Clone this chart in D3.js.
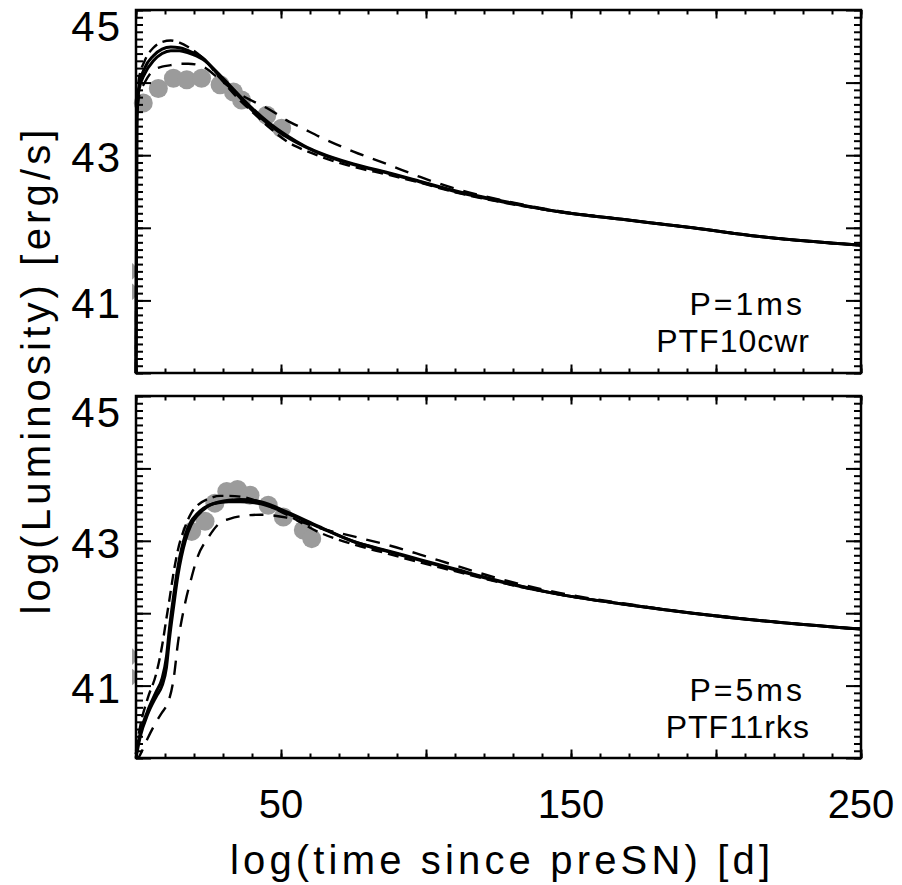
<!DOCTYPE html>
<html>
<head>
<meta charset="utf-8">
<script src="https://cdn.jsdelivr.net/npm/d3@7"></script>
<style>
  body { margin: 0; background: #fff; }
  text { font-family: "Liberation Sans", Arial, Helvetica, sans-serif; fill: #000; }
  .narrow { font-family: "Liberation Sans Narrow", "Liberation Sans", Arial, sans-serif; }
</style>
</head>
<body>
<div id="chart-area"></div>
<script>
// light curves (time in days, log L in erg/s)

// top panel: P=1ms, PTF10cwr
var tTop = [0, 0.3, 1, 3, 6, 9, 12, 15, 18, 23, 29, 35, 40, 46, 52, 58, 63, 75, 87, 98, 110, 125, 146, 169, 192, 215, 250];
var topSolid1 = [40.0, 43.5, 43.95, 44.2, 44.37, 44.46, 44.49, 44.48, 44.44, 44.34, 44.08, 43.83, 43.62, 43.42, 43.25, 43.12, 43.03, 42.87, 42.75, 42.63, 42.5, 42.37, 42.22, 42.11, 42.0, 41.88, 41.76];
var topSolid2 = [40.0, 43.45, 43.9, 44.12, 44.3, 44.4, 44.44, 44.44, 44.41, 44.32, 44.1, 43.85, 43.65, 43.44, 43.27, 43.13, 43.04, 42.88, 42.76, 42.64, 42.51, 42.38, 42.22, 42.11, 42.0, 41.88, 41.76];
var topDash1  = [40.0, 43.6, 44.05, 44.3, 44.48, 44.56, 44.58, 44.55, 44.49, 44.34, 44.06, 43.79, 43.6, 43.38, 43.19, 43.07, 42.99, 42.84, 42.73, 42.62, 42.49, 42.36, 42.22, 42.11, 42.0, 41.88, 41.76];
var topDash2  = [40.0, 43.4, 43.8, 44.0, 44.17, 44.22, 44.24, 44.26, 44.26, 44.22, 44.04, 43.86, 43.75, 43.63, 43.48, 43.36, 43.26, 43.05, 42.87, 42.7, 42.54, 42.39, 42.23, 42.11, 42.0, 41.88, 41.76];
var dotsTopT = [-3, -3, 2.5, 7.7, 12.9, 17.5, 22.6, 29, 33.6, 36.4, 45.1, 50.2];
var dotsTopL = [41.4, 41.12, 43.72, 43.92, 44.06, 44.04, 44.06, 43.97, 43.87, 43.76, 43.55, 43.37];

// bottom panel: P=5ms, PTF11rks
var tBot = [0, 1.5, 4, 7, 9, 10.5, 11.5, 13, 14.5, 17, 19, 21, 25, 29, 32, 36, 43, 52, 63, 75, 87, 98, 110, 125, 146, 169, 192, 215, 250];
var botSolid1 = [40.0, 40.3, 40.6, 40.85, 41.0, 41.25, 41.63, 42.1, 42.53, 43.0, 43.22, 43.34, 43.48, 43.54, 43.56, 43.57, 43.54, 43.4, 43.2, 42.99, 42.85, 42.73, 42.6, 42.44, 42.26, 42.12, 42.0, 41.9, 41.78];
var botSolid2 = [40.05, 40.35, 40.65, 40.92, 41.1, 41.4, 41.78, 42.25, 42.65, 43.08, 43.27, 43.37, 43.49, 43.53, 43.54, 43.54, 43.51, 43.38, 43.19, 42.99, 42.86, 42.74, 42.61, 42.45, 42.26, 42.12, 42.0, 41.9, 41.78];
var botDash1  = [40.1, 40.45, 40.82, 41.17, 41.55, 41.93, 42.18, 42.57, 42.88, 43.2, 43.38, 43.48, 43.58, 43.62, 43.62, 43.61, 43.53, 43.36, 43.12, 42.95, 42.82, 42.7, 42.58, 42.43, 42.26, 42.12, 42.0, 41.9, 41.78];
var botDash2  = [39.95, 40.05, 40.27, 40.5, 40.63, 40.72, 40.82, 41.1, 41.6, 42.15, 42.47, 42.75, 43.05, 43.25, 43.3, 43.34, 43.36, 43.32, 43.18, 43.06, 42.94, 42.81, 42.66, 42.48, 42.28, 42.13, 42.0, 41.9, 41.78];
var dotsBotT = [-3, -3, 19.2, 23.8, 27.2, 31.3, 35, 39.3, 45.6, 50.8, 57.7, 60.6];
var dotsBotL = [41.4, 41.12, 43.13, 43.27, 43.52, 43.68, 43.71, 43.63, 43.49, 43.33, 43.15, 43.03];

var xTickLabels = [50, 150, 250];
var yTickLabels = [41, 43, 45];
var notesTop = ["P=1ms", "PTF10cwr"];
var notesBot = ["P=5ms", "PTF11rks"];

var W = 902, H = 885;
var left = 136, right = 861;

var svg = d3.select("#chart-area")
    .append("svg")
        .attr("width", W)
        .attr("height", H);

var xScale = d3.scaleLinear()
    .domain([0, 250])
    .range([left, right]);

function zip(t, v) {
    return t.map(function(d, i) { return [d, v[i]]; });
}

function drawPanel(id, top, bottom, series, dotsT, dotsL, notes, showLabels) {
    var yScale = d3.scaleLinear()
        .domain([40, 45])
        .range([bottom, top]);

    svg.append("clipPath")
        .attr("id", "clip" + id)
      .append("rect")
        .attr("x", left - 4)
        .attr("y", top)
        .attr("width", right - left + 4)
        .attr("height", bottom - top);

    var g = svg.append("g").attr("clip-path", "url(#clip" + id + ")");

    // data points
    g.selectAll("circle")
        .data(zip(dotsT, dotsL))
        .enter().append("circle")
        .attr("cx", function(d) { return xScale(d[0]); })
        .attr("cy", function(d) { return yScale(d[1]); })
        .attr("r", 9.5)
        .attr("fill", "#9b9b9b");

    var line = d3.line()
        .curve(d3.curveMonotoneX)
        .x(function(d) { return xScale(d[0]); })
        .y(function(d) { return yScale(d[1]); });

    series.forEach(function(s) {
        g.append("path")
            .datum(zip(s.t, s.v))
            .attr("d", line)
            .attr("fill", "none")
            .attr("stroke", "#000")
            .attr("stroke-width", s.w)
            .attr("stroke-dasharray", s.dash);
    });

    // ticks on all four sides, pointing inward
    var xMinor = d3.range(0, 251, 10), xMajor = d3.range(0, 251, 50);
    var yMinor = d3.range(400, 451, 1).map(function(d) { return d / 10; });
    var yMajor = d3.range(40, 46, 1);

    function addAxis(axis, tx, ty) {
        var a = svg.append("g")
            .attr("transform", "translate(" + tx + "," + ty + ")")
            .call(axis);
        a.select(".domain").remove();
        a.selectAll("line").attr("stroke", "#000").attr("stroke-width", 2);
        a.selectAll("text").remove();
    }
    addAxis(d3.axisBottom(xScale).tickValues(xMinor).tickSize(-4.5), 0, bottom);
    addAxis(d3.axisBottom(xScale).tickValues(xMajor).tickSize(-8.5), 0, bottom);
    addAxis(d3.axisTop(xScale).tickValues(xMinor).tickSize(-4.5), 0, top);
    addAxis(d3.axisTop(xScale).tickValues(xMajor).tickSize(-8.5), 0, top);
    addAxis(d3.axisLeft(yScale).tickValues(yMinor).tickSize(-7), left, 0);
    addAxis(d3.axisLeft(yScale).tickValues(yMajor).tickSize(-15), left, 0);
    addAxis(d3.axisRight(yScale).tickValues(yMinor).tickSize(-7), right, 0);
    addAxis(d3.axisRight(yScale).tickValues(yMajor).tickSize(-15), right, 0);

    // frame
    svg.append("rect")
        .attr("x", left)
        .attr("y", top)
        .attr("width", right - left)
        .attr("height", bottom - top)
        .attr("fill", "none")
        .attr("stroke", "#000")
        .attr("stroke-width", 2.5);

    // y tick labels (IDL pushes the top one inside)
    svg.selectAll(".ylab" + id)
        .data(yTickLabels)
        .enter().append("text")
        .attr("class", "ylab" + id)
        .attr("x", 122)
        .attr("y", function(d) { return Math.max(yScale(d) + 2, top + 16); })
        .attr("dy", "0.36em")
        .attr("text-anchor", "end")
        .attr("font-size", "42px")
        .attr("letter-spacing", "2px")
        .text(function(d) { return d; });

    if (showLabels) {
        svg.selectAll(".xlab")
            .data(xTickLabels)
            .enter().append("text")
            .attr("class", "xlab narrow")
            .attr("x", function(d) { return xScale(d); })
            .attr("y", bottom + 60)
            .attr("text-anchor", "middle")
            .attr("font-size", "40px")
            .text(function(d) { return d; });
    }

    // annotation
    svg.append("text")
        .attr("x", 805)
        .attr("y", top + 305)
        .attr("text-anchor", "end")
        .attr("font-size", "32px")
        .attr("letter-spacing", "3px")
        .text(notes[0]);
    svg.append("text")
        .attr("x", 810)
        .attr("y", top + 342)
        .attr("text-anchor", "end")
        .attr("font-size", "32px")
        .attr("letter-spacing", "1px")
        .text(notes[1]);
}

drawPanel("top", 10, 373, [
    { t: tTop, v: topDash2, w: 2.4, dash: "14,10" },
    { t: tTop, v: topDash1, w: 2.4, dash: "11,6" },
    { t: tTop, v: topSolid2, w: 3, dash: null },
    { t: tTop, v: topSolid1, w: 3, dash: null }
], dotsTopT, dotsTopL, notesTop, false);

drawPanel("bot", 396, 758, [
    { t: tBot, v: botDash2, w: 2.4, dash: "14,10" },
    { t: tBot, v: botDash1, w: 2.4, dash: "11,6" },
    { t: tBot, v: botSolid2, w: 3, dash: null },
    { t: tBot, v: botSolid1, w: 3, dash: null }
], dotsBotT, dotsBotL, notesBot, true);

// axis titles
svg.append("text")
    .attr("class", "narrow")
    .attr("x", 500)
    .attr("y", 874)
    .attr("text-anchor", "middle")
    .attr("font-size", "40px")
    .attr("textLength", 540)
    .attr("lengthAdjust", "spacing")
    .text("log(time since preSN) [d]");

svg.append("text")
    .attr("class", "narrow")
    .attr("transform", "translate(50,372) rotate(-90)")
    .attr("text-anchor", "middle")
    .attr("font-size", "40px")
    .attr("textLength", 485)
    .attr("lengthAdjust", "spacing")
    .text("log(Luminosity) [erg/s]");
</script>
</body>
</html>
